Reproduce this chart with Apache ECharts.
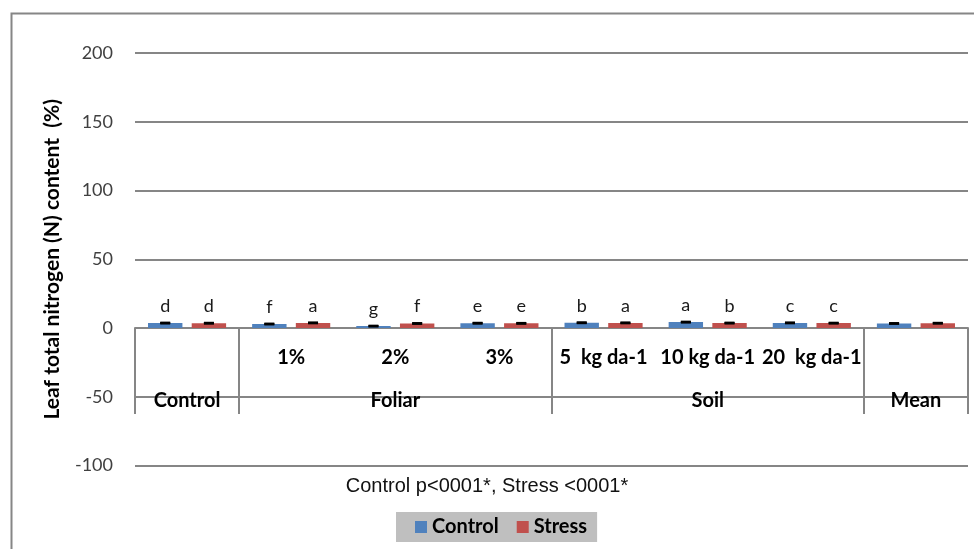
<!DOCTYPE html>
<html>
<head>
<meta charset="utf-8">
<script src="https://cdn.jsdelivr.net/npm/echarts@6/dist/echarts.min.js"></script>
<style>
  html, body { margin: 0; padding: 0; background: #fff; }
  #chart { width: 974px; height: 549px; }
</style>
</head>
<body>
<div id="chart"></div>
<script>
// Treatments (lower row of the category table) and their groups (upper row)
const subLabels = ['', '1%', '2%', '3%', '5  kg da-1', '10 kg da-1', '20  kg da-1', ''];
const groupLabels = ['Control', '', 'Foliar', '', '', 'Soil', '', 'Mean'];
const groupStarts = [0, 1, 4, 7];

// Leaf total nitrogen (%) per treatment
const controlValues = [3.6, 2.9, 1.4, 3.5, 3.8, 4.3, 3.7, 3.3];
const stressValues  = [3.5, 3.7, 3.3, 3.4, 3.7, 3.6, 3.55, 3.5];
const controlErrors = [0.12, 0.10, 0.08, 0.12, 0.12, 0.14, 0.12, 0.10];
const stressErrors  = [0.12, 0.12, 0.10, 0.12, 0.12, 0.12, 0.12, 0.10];

// Significance letters (Duncan groups)
const controlLetters = ['d', 'f', 'g', 'e', 'b', 'a', 'c', ''];
const stressLetters  = ['d', 'a', 'f', 'e', 'a', 'b', 'c', ''];

const yTicks = { min: -100, max: 200, step: 50 };
const noteText = 'Control p<0001*, Stress <0001*';
const yTitle = 'Leaf total nitrogen (N) content  (%)';

const BLUE = '#4f81bd';
const RED = '#c0504d';
const GRID_GRAY = '#868686';
const CAT_GAP = 0.25;
const BAR_GAP = 0.27;

const CHART_H = 549;
const GRID = { left: 135, right: 6, top: 53, bottom: 83.5 };

// The category labels hang from the zero line, not from the bottom of the plot:
// distance between the two, from the value axis range.
const plotH = CHART_H - GRID.top - GRID.bottom;
const zeroLift = plotH * (0 - yTicks.min) / (yTicks.max - yTicks.min);

const chart = echarts.init(document.getElementById('chart'));

// Error bar drawn at the centre of the n-th bar of a two-bar group
function errorSeries(name, values, errors, slot) {
  return {
    name: name,
    type: 'custom',
    xAxisIndex: 0,
    yAxisIndex: 0,
    z: 5,
    silent: true,
    data: values.map((v, i) => [i, v, errors[i]]),
    renderItem: function (params, api) {
      const band = api.size([1, 0])[0];
      const barW = band * (1 - CAT_GAP) / (2 + BAR_GAP);
      const offset = (barW * (1 + BAR_GAP) / 2) * (slot === 0 ? -1 : 1);
      const hi = api.coord([api.value(0), api.value(1) + api.value(2)]);
      const lo = api.coord([api.value(0), api.value(1) - api.value(2)]);
      const x = hi[0] + offset;
      const cap = 5;
      const style = { stroke: '#000', lineWidth: 2.5 };
      return {
        type: 'group',
        children: [
          { type: 'line', shape: { x1: x, y1: hi[1], x2: x, y2: lo[1] }, style: style },
          { type: 'line', shape: { x1: x - cap, y1: hi[1], x2: x + cap, y2: hi[1] }, style: style },
          { type: 'line', shape: { x1: x - cap, y1: lo[1], x2: x + cap, y2: lo[1] }, style: style }
        ]
      };
    }
  };
}

function letterLabel(letters) {
  return {
    show: true,
    position: 'top',
    distance: 8,
    fontFamily: 'Lato',
    fontSize: 18,
    lineHeight: 18,
    color: '#1a1a1a',
    formatter: p => letters[p.dataIndex]
  };
}

const option = {
  animation: false,
  backgroundColor: '#fff',
  textStyle: { fontFamily: 'Lato' },
  title: {
    text: noteText,
    left: 'center',
    top: 475,
    padding: 0,
    textStyle: {
      fontFamily: 'Liberation Sans',
      fontSize: 20,
      fontWeight: 'normal',
      color: '#111',
      lineHeight: 22
    }
  },
  legend: {
    data: ['Control', 'Stress'],
    left: 396,
    top: 512,
    padding: [5, 10, 5, 19],
    backgroundColor: '#bfbfbf',
    itemWidth: 12,
    itemHeight: 12,
    itemGap: 18,
    icon: 'rect',
    selectedMode: false,
    textStyle: { fontFamily: 'Lato', fontSize: 20, fontWeight: 'bold', color: '#000', lineHeight: 20 }
  },
  grid: GRID,
  xAxis: [
    {
      type: 'category',
      data: subLabels,
      position: 'bottom',
      axisLine: { show: true, onZero: true, lineStyle: { color: GRID_GRAY, width: 2 } },
      axisTick: {
        show: true,
        length: 86,
        interval: (i) => groupStarts.indexOf(i) >= 0,
        lineStyle: { color: GRID_GRAY, width: 2 }
      },
      axisLabel: {
        interval: 0,
        margin: 20 - zeroLift,
        fontFamily: 'Lato',
        fontSize: 20,
        lineHeight: 20,
        fontWeight: 'bold',
        color: '#000',
        hideOverlap: false
      },
      splitLine: { show: false }
    },
    {
      type: 'category',
      data: groupLabels,
      position: 'bottom',
      axisLine: { show: true, onZero: true, lineStyle: { opacity: 0 } },
      axisTick: { show: false },
      axisLabel: {
        interval: 0,
        margin: 63 - zeroLift,
        fontFamily: 'Lato',
        fontSize: 20,
        lineHeight: 20,
        fontWeight: 'bold',
        color: '#000',
        hideOverlap: false
      },
      splitLine: { show: false }
    }
  ],
  yAxis: {
    type: 'value',
    min: yTicks.min,
    max: yTicks.max,
    interval: yTicks.step,
    name: yTitle,
    nameLocation: 'middle',
    nameRotate: 90,
    nameGap: 72,
    nameTextStyle: { fontFamily: 'Lato', fontSize: 21, fontWeight: 'bold', color: '#000' },
    axisLine: { show: false },
    axisTick: { show: false },
    axisLabel: { margin: 22, fontFamily: 'Lato', fontSize: 18, color: '#404040' },
    splitLine: { show: true, lineStyle: { color: GRID_GRAY, width: 2 } }
  },
  series: [
    {
      name: 'Control',
      type: 'bar',
      data: controlValues,
      itemStyle: { color: BLUE },
      barCategoryGap: (CAT_GAP * 100) + '%',
      barGap: (BAR_GAP * 100) + '%',
      label: letterLabel(controlLetters),
      z: 3
    },
    {
      name: 'Stress',
      type: 'bar',
      data: stressValues,
      itemStyle: { color: RED },
      barCategoryGap: (CAT_GAP * 100) + '%',
      barGap: (BAR_GAP * 100) + '%',
      label: letterLabel(stressLetters),
      z: 3
    },
    errorSeries('Control error', controlValues, controlErrors, 0),
    errorSeries('Stress error', stressValues, stressErrors, 1)
  ],
  graphic: [
    {
      // outer chart frame
      type: 'rect',
      left: 9,
      top: 11,
      shape: { x: 0, y: 0, width: 2000, height: 2000 },
      style: { fill: 'none', stroke: GRID_GRAY, lineWidth: 2 },
      silent: true,
      z: -1
    }
  ]
};

chart.setOption(option);
</script>
</body>
</html>
